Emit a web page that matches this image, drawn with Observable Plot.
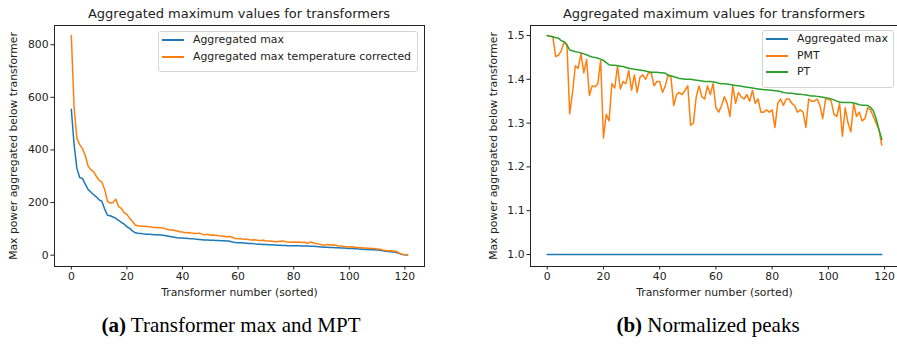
<!DOCTYPE html>
<html><head><meta charset="utf-8">
<script src="https://cdn.jsdelivr.net/npm/d3@7"></script>
<script src="https://cdn.jsdelivr.net/npm/@observablehq/plot@0.6"></script>
<style>
html,body{margin:0;padding:0;background:#fff;}
body{width:897px;height:346px;overflow:hidden;position:relative;font-family:"DejaVu Sans",sans-serif;}
.plot{position:absolute;top:0;}
.title{position:absolute;top:6px;font-size:13px;line-height:15px;color:#222;white-space:nowrap;transform:translateX(-50%);}
.caption{position:absolute;top:313px;font-family:"Liberation Serif",serif;font-size:21px;color:#000;white-space:nowrap;transform:translateX(-50%);}
.legend{position:absolute;box-sizing:border-box;border:1px solid #d4d4d4;border-radius:3px;background:rgba(255,255,255,0.85);}
.legend .sw{position:absolute;height:2px;}
.legend .lt{position:absolute;font-size:10.9px;line-height:13px;color:#222;white-space:nowrap;}
</style></head><body>
<script>
// ---- data: left panel (a) ----
const transformerA = d3.range(0, 122);
const aggregatedMaxA = [555,420,330,295,292,270,250,240,230,222,
210,205,175,152,150,145,140,132,125,118,
108,102,92,85,83,82,81,80,80,79,
78,78,77,76,74,72,70,68,66,65,
65,64,63,62,62,61,60,59,58,58,
57,57,56,56,55,55,54,53,50,48,
47,47,46,45,44,44,43,42,42,41,
41,40,40,39,38,38,37,37,36,36,
36,36,36,35,35,35,34,34,33,32,
31,30,30,29,29,28,28,27,27,26,
25,25,24,24,23,23,22,22,21,21,
20,19,17,15,14,13,12,10,6,3,
2,1];
const aggregatedMaxTempCorrA = [835,560,445,420,405,380,340,325,318,300,
285,278,250,205,198,200,213,185,178,162,
155,140,128,115,112,110,110,109,108,106,
105,105,104,103,100,97,96,95,92,89,
88,85,86,84,83,82,84,80,78,80,
76,77,76,74,73,72,70,71,68,63,
62,63,60,62,59,58,59,57,56,57,
55,54,53,52,51,53,54,51,50,49,
50,49,50,48,49,45,50,47,44,42,
40,38,41,39,40,38,36,35,33,32,
31,32,30,29,28,27,27,26,25,25,
24,23,20,18,17,17,16,14,8,4,
2,2];
const yTicksA = [0,200,400,600,800];
const xTicks = [0,20,40,60,80,100,120];

// ---- data: right panel (b) ----
const transformerB = d3.range(0, 120);
const aggregatedMaxB = [1,1,1,1,1,1,1,1,1,1, 1,1,1,1,1,1,1,1,1,1,
1,1,1,1,1,1,1,1,1,1, 1,1,1,1,1,1,1,1,1,1,
1,1,1,1,1,1,1,1,1,1, 1,1,1,1,1,1,1,1,1,1,
1,1,1,1,1,1,1,1,1,1, 1,1,1,1,1,1,1,1,1,1,
1,1,1,1,1,1,1,1,1,1, 1,1,1,1,1,1,1,1,1,1,
1,1,1,1,1,1,1,1,1,1, 1,1,1,1,1,1,1,1,1,1];
const pmtB = [1.500,1.498,1.497,1.452,1.455,1.465,1.485,1.480,1.321,1.370,
1.431,1.425,1.458,1.415,1.445,1.363,1.385,1.383,1.390,1.443,
1.266,1.320,1.305,1.390,1.380,1.430,1.378,1.395,1.390,1.420,
1.375,1.410,1.370,1.405,1.410,1.400,1.415,1.415,1.385,1.395,
1.395,1.370,1.385,1.410,1.405,1.340,1.365,1.370,1.365,1.375,
1.385,1.295,1.300,1.360,1.385,1.360,1.355,1.385,1.365,1.390,
1.335,1.325,1.340,1.360,1.345,1.315,1.385,1.345,1.370,1.360,
1.355,1.365,1.350,1.375,1.345,1.355,1.325,1.325,1.330,1.325,
1.330,1.290,1.345,1.355,1.340,1.355,1.355,1.345,1.340,1.325,
1.330,1.325,1.290,1.355,1.350,1.350,1.355,1.340,1.310,1.355,
1.355,1.350,1.320,1.315,1.345,1.270,1.335,1.300,1.280,1.345,
1.315,1.325,1.305,1.310,1.335,1.330,1.315,1.300,1.285,1.250];
const ptB = [1.500,1.498,1.497,1.495,1.494,1.488,1.486,1.478,1.467,1.465,
1.463,1.462,1.460,1.458,1.456,1.453,1.451,1.450,1.448,1.446,
1.443,1.438,1.433,1.432,1.432,1.431,1.430,1.429,1.427,1.425,
1.424,1.423,1.422,1.421,1.420,1.419,1.417,1.416,1.416,1.416,
1.415,1.415,1.414,1.409,1.408,1.406,1.404,1.402,1.401,1.400,
1.400,1.400,1.399,1.398,1.397,1.396,1.395,1.395,1.395,1.394,
1.393,1.391,1.390,1.390,1.389,1.388,1.387,1.386,1.385,1.384,
1.383,1.382,1.381,1.380,1.379,1.378,1.377,1.376,1.376,1.375,
1.375,1.374,1.373,1.372,1.370,1.369,1.368,1.368,1.367,1.366,
1.366,1.365,1.364,1.363,1.362,1.362,1.361,1.360,1.359,1.358,
1.357,1.355,1.353,1.350,1.348,1.347,1.347,1.347,1.347,1.346,
1.344,1.342,1.341,1.341,1.340,1.336,1.328,1.310,1.285,1.263];
const yTicksB = [1.0,1.1,1.2,1.3,1.4,1.5];

const namesA = ["Aggregated max", "Aggregated max temperature corrected"];
const namesB = ["Aggregated max", "PMT", "PT"];
const colors = ["#1f77b4", "#ff7f0e", "#2ca02c"];
const title = "Aggregated maximum values for transformers";
const xLabel = "Transformer number (sorted)";
const yLabel = "Max power aggregated below transformer";

const style = {fontFamily: "DejaVu Sans", fontSize: "10.8px", color: "#222", background: "transparent", overflow: "visible"};

function toRows(xs, ys, name) { return xs.map((x, i) => ({x, y: ys[i], name})); }

const rowsA = [...toRows(transformerA, aggregatedMaxA, namesA[0]), ...toRows(transformerA, aggregatedMaxTempCorrA, namesA[1])];
const rowsB = [...toRows(transformerB, aggregatedMaxB, namesB[0]), ...toRows(transformerB, pmtB, namesB[1]), ...toRows(transformerB, ptB, namesB[2])];

const fmtInt = d3.format("d");
const fmt1 = d3.format(".1f");

const plotA = Plot.plot({
  width: 448, height: 300,
  marginLeft: 54, marginRight: 24, marginTop: 25, marginBottom: 34,
  style,
  x: {domain: [-6.05, 127.05]},
  y: {domain: [-43, 873]},
  color: {domain: namesA, range: colors.slice(0, 2)},
  marks: [
    Plot.line(rowsA, {x: "x", y: "y", stroke: "name", strokeWidth: 1.5, clip: true}),
    Plot.axisX({ticks: xTicks, tickFormat: fmtInt, tickSize: 3.5, tickPadding: 2.5, label: xLabel, labelAnchor: "center", labelOffset: 29, labelArrow: "none"}),
    Plot.axisY({ticks: yTicksA, tickFormat: fmtInt, tickSize: 3.5, tickPadding: 2.5, label: yLabel, labelAnchor: "center", labelOffset: 45, labelArrow: "none"}),
    Plot.frame({stroke: "#222", strokeWidth: 1})
  ]
});
plotA.classList.add("plot");
plotA.style.left = "0px";
document.body.appendChild(plotA);

const plotB = Plot.plot({
  width: 450, height: 300,
  marginLeft: 82, marginRight: 0, marginTop: 25, marginBottom: 34,
  style,
  x: {domain: [-5.95, 124.95]},
  y: {domain: [0.9726, 1.5228]},
  color: {domain: namesB, range: colors},
  marks: [
    Plot.line(rowsB, {x: "x", y: "y", stroke: "name", strokeWidth: 1.5, clip: true}),
    Plot.axisX({ticks: xTicks, tickFormat: fmtInt, tickSize: 3.5, tickPadding: 2.5, label: xLabel, labelAnchor: "center", labelOffset: 29, labelArrow: "none"}),
    Plot.axisY({ticks: yTicksB, tickFormat: fmt1, tickSize: 3.5, tickPadding: 2.5, label: yLabel, labelAnchor: "center", labelOffset: 41, labelArrow: "none"}),
    Plot.frame({stroke: "#222", strokeWidth: 1})
  ]
});
plotB.classList.add("plot");
plotB.style.left = "448px";
document.body.appendChild(plotB);

function addDiv(cls, css, html) {
  const d = document.createElement("div");
  d.className = cls; Object.assign(d.style, css); d.innerHTML = html;
  document.body.appendChild(d); return d;
}
addDiv("title", {left: "239px"}, title);
addDiv("title", {left: "714px"}, title);
addDiv("caption", {left: "231px"}, "<b>(a)</b> Transformer max and MPT");
addDiv("caption", {left: "708px"}, "<b>(b)</b> Normalized peaks");

function legend(left, top, w, names) {
  const box = addDiv("legend", {left: left + "px", top: top + "px", width: w + "px", height: (8 + names.length * 16.5) + "px"}, "");
  names.forEach((n, i) => {
    const cy = 8 + i * 16.5;
    const sw = document.createElement("div"); sw.className = "sw";
    Object.assign(sw.style, {left: "3px", width: "22px", top: (cy - 1) + "px", background: colors[i]});
    box.appendChild(sw);
    const t = document.createElement("div"); t.className = "lt"; t.textContent = n;
    Object.assign(t.style, {left: "34px", top: (cy - 7) + "px"});
    box.appendChild(t);
  });
}
legend(158, 31, 260, namesA);
legend(762, 30, 132, namesB);
</script>
</body></html>
